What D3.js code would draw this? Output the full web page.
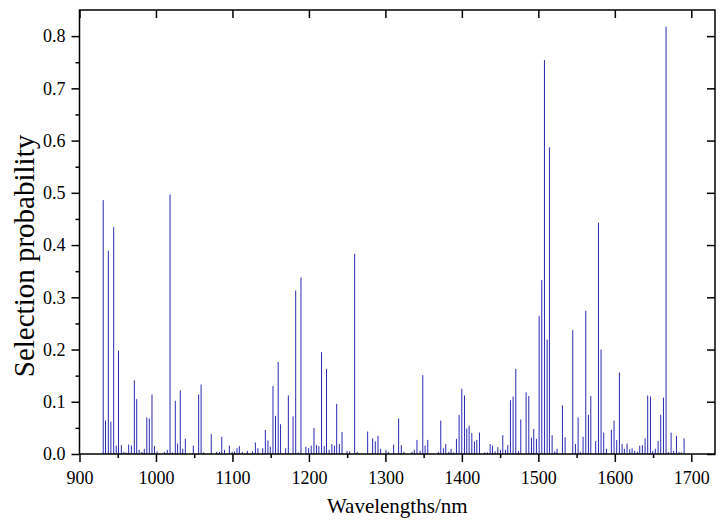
<!DOCTYPE html>
<html>
<head>
<meta charset="utf-8">
<script src="https://d3js.org/d3.v7.min.js"></script>
<style>
  body { margin: 0; background: #fff; }
  svg text { font-family: "Liberation Serif", "Times New Roman", Times, serif; fill: #000; }
  .axis path, .axis line { stroke: #000; }
</style>
</head>
<body>
<svg id="chart" width="725" height="524"></svg>
<script>
// wavelengths (nm) of the selected variables
const wavelengths = [
  931, 934, 937.7, 941, 944.7, 948, 951, 954.7, 958, 961, 964.3, 967.8, 971.7, 974.8, 978, 981.7, 984.7, 988, 991.3, 994.8,
  998, 1001.4, 1011, 1014.8, 1018.4, 1021.6, 1025.3, 1028.3, 1031.8, 1035, 1038.4, 1048.8, 1055.8, 1059, 1062.4, 1072.3,
  1079.3, 1083, 1086, 1089.6, 1096, 1099.6, 1102.6, 1106, 1109, 1113, 1119.5, 1126.3, 1130, 1133.3, 1139.6, 1143, 1146.4,
  1149.5, 1153, 1156.3, 1159.8, 1162.9, 1169.6, 1173.1, 1179.2, 1182.7, 1186, 1189.6, 1196, 1199.6, 1203, 1206.6, 1210,
  1213, 1216.5, 1220, 1223, 1226.4, 1230, 1233.3, 1236.3, 1239.8, 1243.3, 1249.8, 1253.3, 1259.8, 1263.3, 1276.8, 1283.3,
  1286.8, 1290.3, 1293.8, 1300.8, 1303.8, 1310.8, 1317.3, 1320.8, 1324.3, 1334.8, 1337.8, 1341.3, 1345.4, 1348.9, 1351.9,
  1355.4, 1369.3, 1372.4, 1375.9, 1378.9, 1382.9, 1385.9, 1389.4, 1392.9, 1396.4, 1399.9, 1403.4, 1406.4, 1409.5, 1413,
  1416.4, 1419.5, 1423, 1430, 1433.5, 1437, 1440, 1443.5, 1447, 1450.4, 1453.5, 1457, 1460, 1463.5, 1467, 1470.5, 1474,
  1477, 1484, 1487.5, 1491, 1494, 1497.5, 1501, 1504.5, 1508, 1511.5, 1514.5, 1518, 1521.5, 1524.5, 1531.5, 1535, 1545,
  1548.5, 1552, 1555, 1558.5, 1562, 1565.5, 1568.6, 1575, 1578.6, 1582, 1585.5, 1589, 1595.5, 1599, 1602.5, 1606, 1609.5,
  1612.5, 1616, 1619.5, 1622.6, 1626, 1629.5, 1632.6, 1636, 1639.6, 1643, 1646.6, 1649.6, 1653, 1656.6, 1660, 1663.6,
  1667, 1670, 1673.6, 1677, 1680.6, 1684, 1687, 1690.6
];
// selection probability of each wavelength
const probability = [
  0.486, 0.064, 0.389, 0.062, 0.434, 0.016, 0.198, 0.017, 0.004, 0.003, 0.018, 0.016, 0.141, 0.105, 0.008, 0.004, 0.010, 0.070, 0.068, 0.114,
  0.015, 0.005, 0.004, 0.008, 0.497, 0.003, 0.102, 0.020, 0.122, 0.010, 0.029, 0.016, 0.114, 0.133, 0.003, 0.038,
  0.004, 0.004, 0.033, 0.008, 0.016, 0.004, 0.005, 0.011, 0.015, 0.004, 0.006, 0.005, 0.022, 0.011, 0.011, 0.046, 0.026,
  0.014, 0.130, 0.073, 0.176, 0.057, 0.011, 0.112, 0.072, 0.313, 0.003, 0.338, 0.014, 0.011, 0.016, 0.050, 0.017,
  0.015, 0.195, 0.015, 0.163, 0.008, 0.019, 0.016, 0.096, 0.019, 0.042, 0.006, 0.005, 0.383, 0.004, 0.043, 0.030,
  0.024, 0.035, 0.010, 0.008, 0.004, 0.018, 0.068, 0.017, 0.004, 0.004, 0.008, 0.027, 0.006, 0.151, 0.016,
  0.027, 0.004, 0.064, 0.011, 0.019, 0.004, 0.010, 0.003, 0.029, 0.075, 0.125, 0.112, 0.049, 0.054, 0.040,
  0.024, 0.027, 0.041, 0.003, 0.003, 0.019, 0.016, 0.005, 0.013, 0.008, 0.036, 0.008, 0.017, 0.103, 0.110, 0.163, 0.006,
  0.066, 0.118, 0.111, 0.031, 0.048, 0.029, 0.264, 0.333, 0.754, 0.219, 0.587, 0.036, 0.005, 0.010, 0.093, 0.032, 0.237,
  0.019, 0.070, 0.004, 0.033, 0.274, 0.075, 0.111, 0.025, 0.443, 0.200, 0.041, 0.010, 0.046, 0.064, 0.027, 0.156, 0.019,
  0.010, 0.020, 0.009, 0.011, 0.006, 0.004, 0.016, 0.017, 0.030, 0.112, 0.110, 0.006, 0.010, 0.025, 0.075, 0.108,
  0.818, 0.004, 0.041, 0.006, 0.035, 0.004, 0.003, 0.030
];
const xTicks = [900, 1000, 1100, 1200, 1300, 1400, 1500, 1600, 1700];
const yTicks = [0, 0.1, 0.2, 0.3, 0.4, 0.5, 0.6, 0.7, 0.8];

const serif = '"Liberation Serif", "Times New Roman", Times, serif';
const svg = d3.select('svg#chart').attr('font-family', serif);
const margins = {top: 10, right: 10, bottom: 70, left: 79.5};
const width = +svg.attr('width');
const height = +svg.attr('height');
const chartWidth = width - margins.left - margins.right;
const chartHeight = height - margins.top - margins.bottom;

const xScale = d3.scaleLinear().domain([900, 1731]).range([0, chartWidth]);
const yScale = d3.scaleLinear().domain([0, 0.85]).range([chartHeight, 0]);

const chart = svg.append('g')
  .attr('transform', `translate(${margins.left},${margins.top})`);

// bars drawn as thin lines
chart.selectAll('line.bar')
  .data(wavelengths)
  .join('line')
  .attr('class', 'bar')
  .attr('x1', d => xScale(d))
  .attr('x2', d => xScale(d))
  .attr('y1', yScale(0))
  .attr('y2', (d, i) => yScale(probability[i]))
  .attr('stroke', '#2a2ab4')
  .attr('stroke-width', 1);

// minor ticks
const xMinor = d3.range(950, 1731, 100);
const yMinor = d3.range(0.05, 0.85, 0.1);

let bottomAxis = d3.axisBottom(xScale).tickValues(xTicks).tickSize(8).tickPadding(9).tickFormat(d3.format('d'));
chart.append('g')
  .attr('class', 'x axis')
  .attr('transform', `translate(0,${chartHeight})`)
  .call(bottomAxis);
chart.append('g')
  .attr('class', 'axis')
  .attr('transform', `translate(0,${chartHeight})`)
  .call(d3.axisBottom(xScale).tickValues(xMinor).tickSize(4).tickFormat(''));

let leftAxis = d3.axisLeft(yScale).tickValues(yTicks).tickSize(8).tickPadding(6).tickFormat(d3.format('.1f'));
chart.append('g')
  .attr('class', 'y axis')
  .call(leftAxis);
chart.append('g')
  .attr('class', 'axis')
  .call(d3.axisLeft(yScale).tickValues(yMinor).tickSize(4).tickFormat(''));

// mirrored ticks on top and right, pointing inward
chart.append('g')
  .attr('class', 'axis')
  .call(d3.axisBottom(xScale).tickValues(xTicks).tickSize(8).tickFormat(''));
chart.append('g')
  .attr('class', 'axis')
  .attr('transform', `translate(${chartWidth},0)`)
  .call(d3.axisLeft(yScale).tickValues(yTicks).tickSize(8).tickFormat(''));

chart.selectAll('.axis').attr('font-family', serif);
chart.selectAll('.axis .domain').remove();
chart.selectAll('.axis line').attr('stroke-width', 1.5);
chart.selectAll('.axis text').style('font-size', '18px');

// frame
chart.append('rect')
  .attr('x', 0).attr('y', 0)
  .attr('width', chartWidth).attr('height', chartHeight)
  .attr('fill', 'none')
  .attr('stroke', '#000')
  .attr('stroke-width', 1.5);

svg.append('text')
  .attr('x', margins.left + chartWidth / 2)
  .attr('y', 513)
  .attr('text-anchor', 'middle')
  .style('font-size', '21px')
  .text('Wavelengths/nm');

svg.append('text')
  .attr('transform', 'translate(34,256) rotate(-90)')
  .attr('text-anchor', 'middle')
  .style('font-size', '29px')
  .text('Selection probability');
</script>
</body>
</html>
